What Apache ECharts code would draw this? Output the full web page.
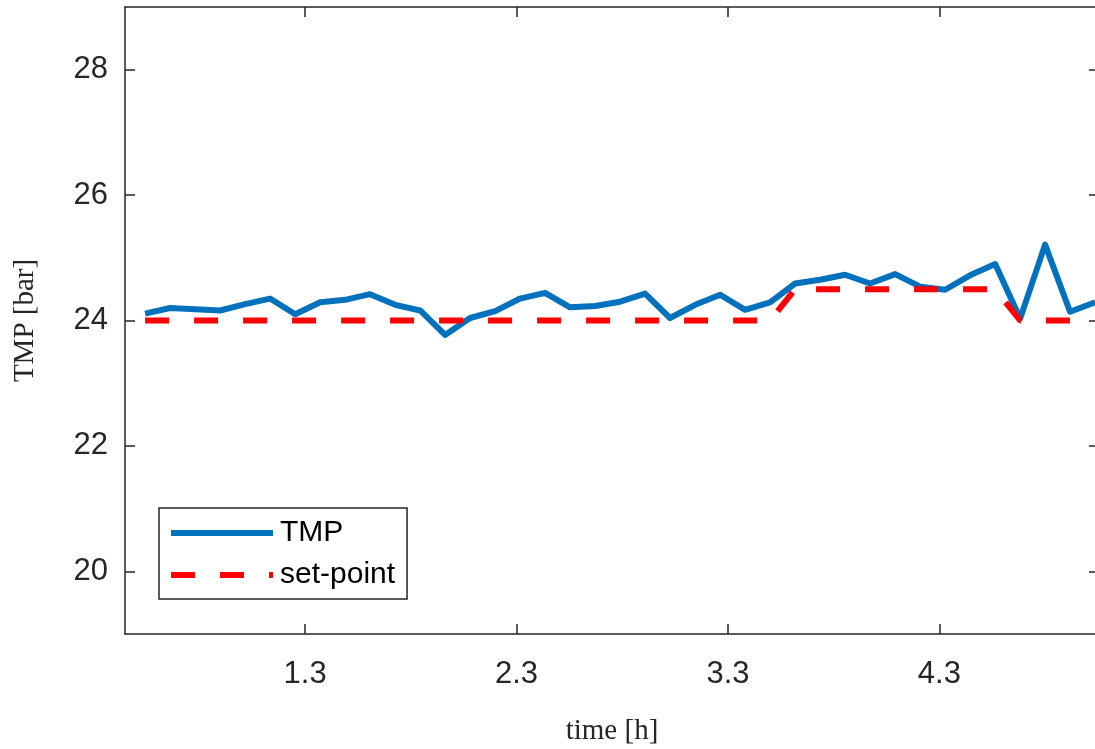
<!DOCTYPE html>
<html>
<head>
<meta charset="utf-8">
<title>TMP vs time</title>
<script src="https://cdn.jsdelivr.net/npm/echarts@6/dist/echarts.min.js"></script>
<style>
  html, body { margin: 0; padding: 0; background: #ffffff; }
  #chart { width: 1095px; height: 749px; }
</style>
</head>
<body>
<div id="chart"></div>
<script>
// sample times [h]
const timeH = [
  0.543, 0.661, 0.780, 0.898, 1.016, 1.134, 1.253, 1.371, 1.489, 1.607,
  1.726, 1.844, 1.962, 2.080, 2.199, 2.317, 2.435, 2.553, 2.672, 2.790,
  2.908, 3.026, 3.145, 3.263, 3.381, 3.499, 3.618, 3.736, 3.854, 3.972,
  4.091, 4.209, 4.327, 4.445, 4.564, 4.682, 4.800, 4.918, 5.037
];

// measured transmembrane pressure [bar]
const tmp = [
  24.11, 24.20, 24.18, 24.16, 24.26, 24.35, 24.10, 24.29, 24.33, 24.42,
  24.25, 24.16, 23.77, 24.04, 24.15, 24.35, 24.44, 24.21, 24.23, 24.30,
  24.43, 24.04, 24.25, 24.41, 24.17, 24.29, 24.59, 24.65, 24.73, 24.59,
  24.74, 24.54, 24.49, 24.72, 24.90, 24.03, 25.21, 24.14, 24.29
];

// pressure set-point [bar]
const setPoint = [
  24.0, 24.0, 24.0, 24.0, 24.0, 24.0, 24.0, 24.0, 24.0, 24.0,
  24.0, 24.0, 24.0, 24.0, 24.0, 24.0, 24.0, 24.0, 24.0, 24.0,
  24.0, 24.0, 24.0, 24.0, 24.0, 24.0, 24.5, 24.5, 24.5, 24.5,
  24.5, 24.5, 24.5, 24.5, 24.5, 24.0, 24.0, 24.0, 24.0
];

// axis ticks
const xTicks = [1.3, 2.3, 3.3, 4.3];
const yTicks = [20, 22, 24, 26, 28];
const xRange = [0.448, 5.055];
const yRange = [19, 29];

const axisColor = '#262626';
const tickFont = { fontFamily: 'Liberation Sans, Arial, sans-serif', fontSize: 31, color: axisColor };
const nameFont = { fontFamily: 'Liberation Serif, Times New Roman, serif', fontSize: 29, color: axisColor };

function pairs(xs, ys) { return xs.map((x, i) => [x, ys[i]]); }

function xAxisDef(pos, showLabels) {
  return {
    type: 'value', position: pos, min: xRange[0], max: xRange[1],
    name: showLabels ? 'time [h]' : '', nameLocation: 'middle', nameGap: 83,
    nameTextStyle: nameFont,
    axisLine: { show: true, onZero: false, lineStyle: { color: axisColor, width: 1.5 } },
    axisTick: { show: true, inside: true, length: 10, customValues: xTicks,
                lineStyle: { color: axisColor, width: 1.5 } },
    axisLabel: { show: showLabels, customValues: xTicks, margin: 25,
                 formatter: v => v.toFixed(1), ...tickFont },
    splitLine: { show: false }
  };
}

function yAxisDef(pos, showLabels) {
  return {
    type: 'value', position: pos, min: yRange[0], max: yRange[1],
    name: showLabels ? 'TMP [bar]' : '', nameLocation: 'middle', nameGap: 85,
    nameTextStyle: nameFont,
    axisLine: { show: true, onZero: false, lineStyle: { color: axisColor, width: 1.5 } },
    axisTick: { show: true, inside: true, length: 10, customValues: yTicks,
                lineStyle: { color: axisColor, width: 1.5 } },
    axisLabel: { show: showLabels, customValues: yTicks, margin: 17, ...tickFont },
    splitLine: { show: false }
  };
}

const chart = echarts.init(document.getElementById('chart'), null, { renderer: 'canvas' });
chart.setOption({
  animation: false,
  backgroundColor: '#ffffff',
  grid: { left: 125, top: 7, width: 974, height: 627, containLabel: false, outerBoundsMode: 'none' },
  xAxis: [xAxisDef('bottom', true), xAxisDef('top', false)],
  yAxis: [yAxisDef('left', true), yAxisDef('right', false)],
  legend: {
    orient: 'vertical', left: 159, top: 508,
    itemWidth: 102, itemHeight: 30, itemGap: 12,
    padding: [10, 12, 9, 9],
    borderColor: axisColor, borderWidth: 1.5, backgroundColor: '#ffffff',
    itemStyle: { opacity: 0 },
    lineStyle: { width: 6 },
    textStyle: { fontFamily: 'Liberation Sans, Arial, sans-serif', fontSize: 30, color: '#000000', padding: [0, 0, 0, 2] },
    data: ['TMP', 'set-point']
  },
  series: [
    {
      name: 'TMP', type: 'line', xAxisIndex: 0, yAxisIndex: 0,
      data: pairs(timeH, tmp), symbol: 'none', clip: true,
      lineStyle: { color: '#0072BD', width: 6, join: 'round' },
      itemStyle: { color: '#0072BD' }
    },
    {
      name: 'set-point', type: 'line', xAxisIndex: 0, yAxisIndex: 0,
      data: pairs(timeH, setPoint), symbol: 'none', clip: true,
      lineStyle: { color: '#FF0000', width: 6, type: [24, 25] },
      itemStyle: { color: '#FF0000' }
    }
  ]
});
</script>
</body>
</html>
